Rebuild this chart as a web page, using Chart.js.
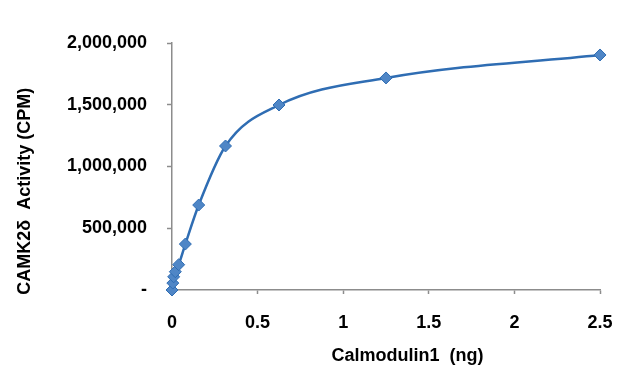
<!DOCTYPE html>
<html>
<head>
<meta charset="utf-8">
<script src="https://cdn.jsdelivr.net/npm/chart.js@4"></script>
<style>
  html, body { margin: 0; padding: 0; background: #ffffff; }
  #wrap { width: 640px; height: 383px; position: relative; }
</style>
</head>
<body>
<div id="wrap"><canvas id="c" width="640" height="383"></canvas></div>
<script>
// Data
const doses = [0, 0.0049, 0.0098, 0.0195, 0.039, 0.078, 0.156, 0.3125, 0.625, 1.25, 2.5];
const activity = [0, 56000, 107000, 148000, 205000, 372000, 688000, 1166000, 1498000, 1717000, 1903000];
const xTicks = [0, 0.5, 1, 1.5, 2, 2.5];
const yTicks = [0, 500000, 1000000, 1500000, 2000000];
const xTitle = 'Calmodulin1  (ng)';
const yTitle = 'CAMK2\u03B4  Activity (CPM)';

const FONT = 'Liberation Sans, Arial, sans-serif';
const AXIS_COLOR = '#8c8c8c';

const points = doses.map((d, i) => ({ x: d, y: activity[i] }));

const titlesPlugin = {
  id: 'axisTitles',
  afterDraw(chart) {
    const ctx = chart.ctx;
    const a = chart.chartArea;
    ctx.save();
    ctx.fillStyle = '#000000';
    ctx.font = 'bold 18px ' + FONT;
    ctx.textAlign = 'center';
    ctx.textBaseline = 'middle';
    ctx.fillText(xTitle, a.left + (a.right - a.left) * 0.55, a.bottom + 66);
    ctx.translate(25, a.top + (a.bottom - a.top) * 0.6);
    ctx.rotate(-Math.PI / 2);
    ctx.fillText(yTitle, 0, 0);
    ctx.restore();
  }
};

new Chart(document.getElementById('c'), {
  type: 'scatter',
  data: {
    datasets: [{
      data: points,
      showLine: true,
      borderColor: '#2f6db3',
      borderWidth: 2.5,
      cubicInterpolationMode: 'monotone',
      pointStyle: 'rectRot',
      pointRadius: 6,
      pointBackgroundColor: '#4f86c6',
      pointBorderColor: '#2f6db3',
      pointBorderWidth: 1,
      clip: false
    }]
  },
  options: {
    responsive: false,
    animation: false,
    devicePixelRatio: 1,
    layout: { padding: { top: 43, right: 40, left: 0, bottom: 0 } },
    plugins: {
      legend: { display: false },
      tooltip: { enabled: false },
      title: { display: false }
    },
    scales: {
      x: {
        type: 'linear',
        min: 0,
        max: 2.5,
        afterBuildTicks(s) { s.ticks = xTicks.map(v => ({ value: v })); },
        afterFit(s) { s.height = 93; },
        grid: { drawOnChartArea: false, color: AXIS_COLOR, tickLength: 4, tickWidth: 1.5 },
        border: { color: AXIS_COLOR, width: 1.5 },
        ticks: {
          padding: 18,
          color: '#000000',
          font: { family: FONT, size: 18, weight: 'bold' },
          maxRotation: 0,
          callback: v => String(v)
        }
      },
      y: {
        type: 'linear',
        min: 0,
        max: 2000000,
        afterBuildTicks(s) { s.ticks = yTicks.map(v => ({ value: v })); },
        afterFit(s) { s.width = 172; },
        grid: { drawOnChartArea: false, color: AXIS_COLOR, tickLength: 5, tickWidth: 1.5 },
        border: { color: AXIS_COLOR, width: 1.5 },
        ticks: {
          padding: 20,
          color: '#000000',
          font: { family: FONT, size: 18, weight: 'bold' },
          callback: v => v === 0 ? '-' : v.toLocaleString('en-US')
        }
      }
    }
  },
  plugins: [titlesPlugin]
});
</script>
</body>
</html>
